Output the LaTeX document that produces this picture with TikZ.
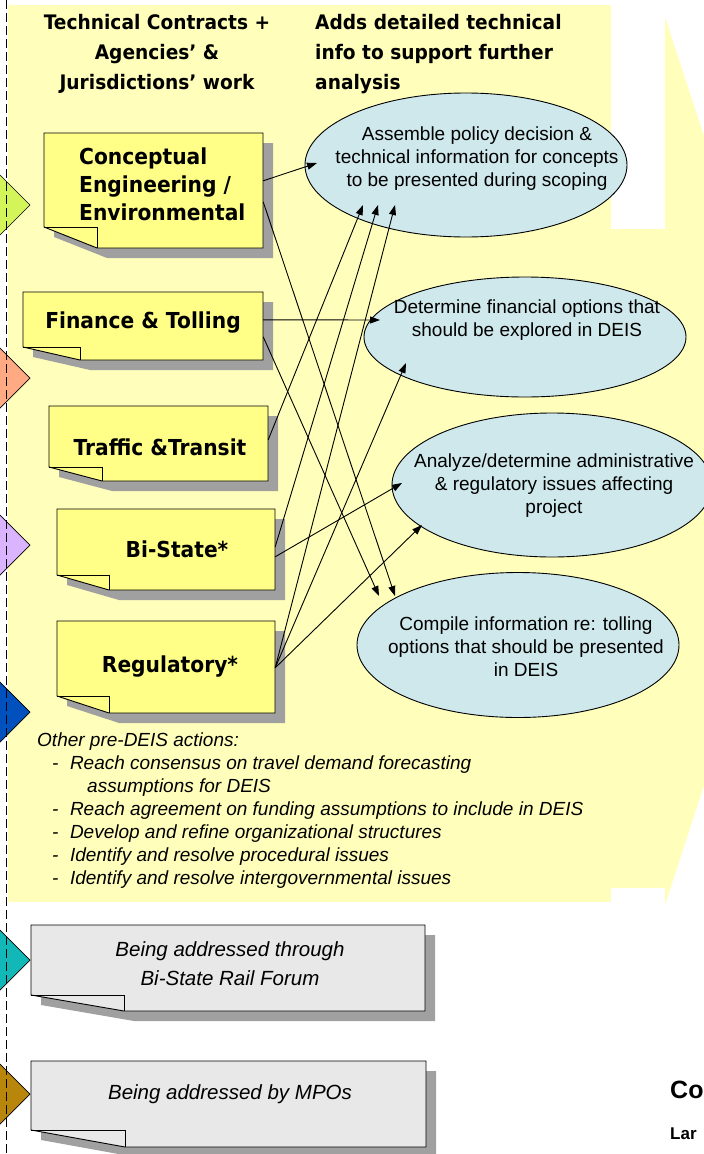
\documentclass[tikz,border=0pt]{standalone}
\usepackage{fontspec}
\setmainfont{Liberation Sans}
\newfontfamily\headfont[FakeStretch=0.93]{DejaVu Sans}
\newfontfamily\boxfont[FakeStretch=0.92]{DejaVu Sans}
\usetikzlibrary{arrows.meta,calc,shapes.geometric,fit}
\definecolor{bgyel}{HTML}{FFFFBB}
\definecolor{boxyel}{HTML}{FFFF88}
\definecolor{shadowc}{HTML}{A0A0A0}
\definecolor{ellc}{HTML}{CFE8EC}
\definecolor{grayc}{HTML}{E8E8E8}
\definecolor{tgreen}{HTML}{D4F55A}
\definecolor{torange}{HTML}{FFAA82}
\definecolor{tpurple}{HTML}{DAB4FF}
\definecolor{tblue}{HTML}{0050BE}
\definecolor{tteal}{HTML}{12B8B8}
\definecolor{tbrown}{HTML}{B8860B}
\newcommand\notebox[8]{%
  \fill[shadowc] (#2+10,#3+10) -- (#4+10,#3+10) -- (#4+10,#5+10) -- (#2+#6+10,#5+10) -- (#2+10,#5-#7+10) -- cycle;
  \filldraw[fill=#8, draw=black, line width=0.9pt] (#2,#3) -- (#4,#3) -- (#4,#5) -- (#2+#6,#5) -- (#2,#5-#7) -- cycle;
  \draw[line width=0.9pt] (#2,#5-#7) -- (#2+#6,#5-#7) -- (#2+#6,#5);
  \node[fit={(#2,#3) (#4,#5)}, inner sep=0pt] (#1) {};
}
\newcommand\sidetri[2]{%
  \filldraw[fill=#1, draw=black, line width=0.7pt] (-6,#2-36) -- (30,#2) -- (-6,#2+36) -- cycle;
}
\tikzset{
  arr/.style={-{Triangle[length=10pt,width=7pt]}, line width=0.9pt},
  ell/.style={ellipse, draw=black, line width=0.9pt, fill=ellc, inner sep=0pt},
  headtxt/.style={font=\headfont\bfseries\fontsize{20}{30}\selectfont, inner sep=0pt},
  boxtxt/.style={font=\boxfont\bfseries\fontsize{22}{28}\selectfont, inner sep=0pt},
  elltxt/.style={font=\fontsize{19}{23}\selectfont, align=center, inner sep=0pt},
  itxt/.style={font=\itshape\fontsize{19}{23}\selectfont, align=left, inner sep=0pt},
  gtxt/.style={font=\itshape\fontsize{20.5}{29}\selectfont, align=center, inner sep=0pt},
  dashline/.style={line width=1pt, dash pattern=on 9pt off 4pt}
}
\begin{document}
\begin{tikzpicture}[x=1pt,y=-1pt]
\useasboundingbox (0,0) rectangle (704,1154);
% backgrounds
\fill[white] (0,0) rectangle (704,1154);
\fill[bgyel] (8,5) rectangle (611,902);
\fill[bgyel] (611,229) rectangle (665,888);
\fill[bgyel] (665,17) -- (810,460) -- (665,905) -- cycle;
% gray boxes
\notebox{g1}{31}{925}{425}{1011}{93}{16}{grayc}
\notebox{g2}{31}{1061}{426}{1147}{94}{17}{grayc}
% yellow note boxes
\notebox{conc}{44}{133}{263}{248}{53}{21}{boxyel}
\notebox{fin}{23}{292}{263}{360}{57}{13}{boxyel}
\notebox{traf}{49}{406}{268}{481}{53}{14}{boxyel}
\notebox{bis}{57}{509}{275}{590}{52}{15}{boxyel}
\notebox{reg}{57}{621}{275}{713}{52}{17}{boxyel}
% ellipses
\node[ell, minimum width=322pt, minimum height=144pt] (e1) at (466,165) {};
\node[ell, minimum width=322pt, minimum height=120pt] (e2) at (525,337) {};
\node[ell, minimum width=320pt, minimum height=144pt] (e3) at (552,485) {};
\node[ell, minimum width=322pt, minimum height=145pt] (e4) at (518,645) {};
% headings
\node[headtxt, align=center] (h1) at (157,54) {Technical Contracts +\\Agencies’ \&\\Jurisdictions’ work};
\node[headtxt, align=left, anchor=west] (h2) at (315,54) {Adds detailed technical\\info to support further\\analysis};
% box texts
\node[boxtxt, align=left, anchor=west] (conc-t) at (79,184) {Conceptual\\Engineering /\\Environmental};
\node[boxtxt] (fin-t) at (143,323) {Finance \& Tolling};
\node[boxtxt] (traf-t) at (160,447) {Traffic \&Transit};
\node[boxtxt] (bis-t) at (177,549) {Bi-State*};
\node[boxtxt] (reg-t) at (170,667) {Regulatory*};
% ellipse texts
\node[elltxt] (e1-t) at (477,159) {Assemble policy decision \&\\technical information for concepts\\to be presented during scoping};
\node[elltxt] (e2-t) at (527,320) {Determine financial options that\\should be explored in DEIS};
\node[elltxt] (e3-t) at (554,486) {Analyze/determine administrative\\\& regulatory issues affecting\\project};
\node[elltxt] (e4-t) at (526,647) {Compile information re: tolling\\options that should be presented\\in DEIS};
% other actions
\node[itxt, anchor=north west] (oth) at (37,733) {Other pre-DEIS actions:\\
\hspace*{15pt}-\hspace{11.5pt}Reach consensus on travel demand forecasting\\
\hspace*{50pt}assumptions for DEIS\\
\hspace*{15pt}-\hspace{11.5pt}Reach agreement on funding assumptions to include in DEIS\\
\hspace*{15pt}-\hspace{11.5pt}Develop and refine organizational structures\\
\hspace*{15pt}-\hspace{11.5pt}Identify and resolve procedural issues\\
\hspace*{15pt}-\hspace{11.5pt}Identify and resolve intergovernmental issues};
% gray texts
\node[gtxt] (g1-t) at (230,964) {Being addressed through\\Bi-State Rail Forum};
\node[gtxt] (g2-t) at (230,1094) {Being addressed by MPOs};
% cut-off texts
\node[font=\bfseries\fontsize{25}{30}\selectfont, anchor=west, inner sep=0pt] (co) at (670,1090) {Co};
\node[font=\bfseries\fontsize{17}{20}\selectfont, anchor=west, inner sep=0pt] (lar) at (670,1134) {Lar};
% arrows
\draw[arr] ($(conc.north east)+(0,48)$) -- ($(e1.center)+(-149,-2)$);
\draw[arr] ($(conc.north east)+(0,69)$) -- ($(e4.center)+(-123,-49)$);
\draw[arr] ($(fin.north east)+(0,28)$) -- ($(e2.center)+(-145,-17)$);
\draw[arr] ($(fin.north east)+(0,45)$) -- ($(e4.center)+(-139,-49)$);
\draw[arr] ($(traf.north east)+(0,34)$) -- ($(e1.center)+(-103,40)$);
\draw[arr] ($(bis.north east)+(0,38)$) -- ($(e1.center)+(-88,40)$);
\draw[arr] ($(bis.north east)+(0,48)$) -- ($(e3.center)+(-150,-2)$);
\draw[arr] ($(reg.north east)+(0,47)$) -- ($(e1.center)+(-71,40)$);
\draw[arr] ($(reg.north east)+(0,47)$) -- ($(e2.center)+(-119,26)$);
\draw[arr] ($(reg.north east)+(0,47)$) -- ($(e3.center)+(-130,40)$);
% side triangles
\sidetri{tgreen}{205}
\sidetri{torange}{378}
\sidetri{tpurple}{545}
\sidetri{tblue}{712}
\sidetri{tteal}{960}
\sidetri{tbrown}{1094}
\draw[dashline] (6,0) -- (6,1154);
\end{tikzpicture}
\end{document}
